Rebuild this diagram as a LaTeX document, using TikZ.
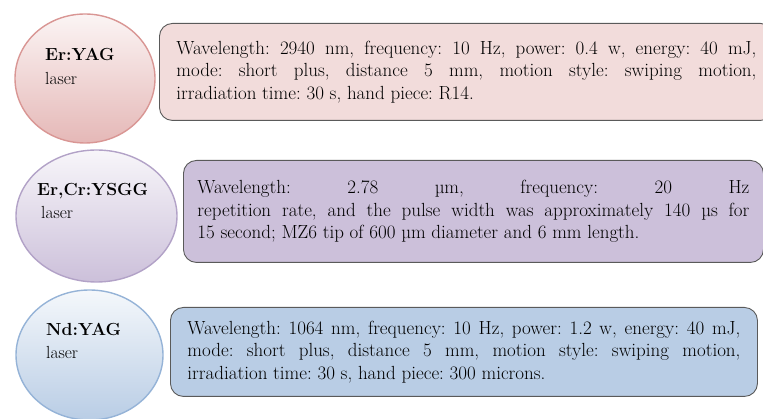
\documentclass[tikz,border=0pt]{standalone}
\usetikzlibrary{shapes.geometric,calc}
\definecolor{boxA}{RGB}{242,220,219}
\definecolor{boxB}{RGB}{204,192,218}
\definecolor{boxC}{RGB}{185,205,229}
\definecolor{ellA}{RGB}{217,150,148}
\definecolor{ellB}{RGB}{178,162,199}
\definecolor{ellC}{RGB}{149,179,215}
\definecolor{ellAbot}{RGB}{229,184,183}
\definecolor{ellBbot}{RGB}{204,192,218}
\definecolor{ellCbot}{RGB}{185,205,229}
\definecolor{frame}{RGB}{90,90,90}
\hbadness=10000
\frenchspacing
\begin{document}
\begin{tikzpicture}[x=1pt,y=-1pt,
  every node/.style={font=\fontsize{19pt}{22.5pt}\selectfont},
  infobox/.style={draw=frame, line width=0.9pt, rounded corners=13pt, inner sep=0pt,
     anchor=north west, align=justify},
  laserell/.style={ellipse, line width=1.4pt, inner sep=0pt},
  ltext/.style={anchor=north west, inner sep=0pt, align=left,
     font=\fontsize{17.5pt}{23.5pt}\selectfont}]
\useasboundingbox (0,0) rectangle (763,419);
\clip (0,0) rectangle (763,419);

% ellipses
\node[laserell, draw=ellA, top color=white!85!ellAbot, bottom color=ellAbot,
  minimum width=140pt, minimum height=129pt] (e1) at (85,78.5) {};
\node[laserell, draw=ellB, top color=white!85!ellBbot, bottom color=ellBbot,
  minimum width=161pt, minimum height=132pt] (e2) at (96.5,216) {};
\node[laserell, draw=ellC, top color=white!85!ellCbot, bottom color=ellCbot,
  minimum width=147pt, minimum height=130pt] (e3) at (89.5,355) {};

\node[ltext] (t1) at ($(e1.center)+(-40,-30)$) {\textbf{Er:YAG}\\laser};
\node[ltext] (t2) at ($(e2.center)+(-59.5,-33)$) {\textbf{Er,Cr:YSGG}\\\hspace*{4pt}laser};
\node[ltext] (t3) at ($(e3.center)+(-43.5,-32)$) {\textbf{Nd:YAG}\\laser};

% boxes
\node[infobox, fill=boxA, minimum width=614pt, minimum height=97pt, text width=580pt] (b1) at (159,23)
 {Wavelength: 2940 nm, frequency: 10 Hz, power: 0.4 w, energy: 40 mJ,\linebreak
  mode: short plus, distance 5 mm, motion style: swiping motion,\linebreak
  irradiation time: 30 s, hand piece: R14.};
\node[infobox, fill=boxB, minimum width=580pt, minimum height=102pt, text width=552pt] (b2) at (183,160)
 {Wavelength: 2.78 \textmu m, frequency: 20 Hz\linebreak
  repetition rate, and the pulse width was approximately 140 \textmu s for\linebreak
  15 second; MZ6 tip of 600 \textmu m diameter and 6 mm length.};
\node[infobox, fill=boxC, minimum width=587pt, minimum height=89pt, text width=553pt] (b3) at (170,307)
 {Wavelength: 1064 nm, frequency: 10 Hz, power: 1.2 w, energy: 40 mJ,\linebreak
  mode: short plus, distance 5 mm, motion style: swiping motion,\linebreak
  irradiation time: 30 s, hand piece: 300 microns.};
\end{tikzpicture}
\end{document}
